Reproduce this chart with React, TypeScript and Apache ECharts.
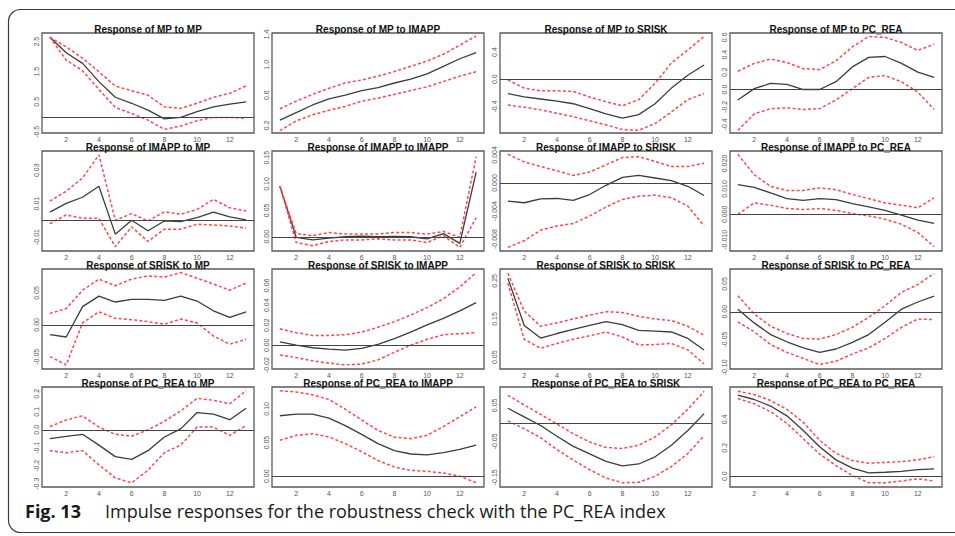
import React, { useEffect, useRef } from "react";
import * as echarts from "echarts";

const horizons = [1, 2, 3, 4, 5, 6, 7, 8, 9, 10, 11, 12, 13];
const xTicks = [2, 4, 6, 8, 10, 12];

const variables = ["MP", "IMAPP", "SRISK", "PC_REA"];

// Row 1: Response of MP
const mean_MP_MP = [2.65, 2.13, 1.78, 1.17, 0.65, 0.45, 0.22, -0.07, -0.02, 0.17, 0.33, 0.42, 0.5];
const upper_MP_MP = [2.65, 2.33, 1.95, 1.5, 1.02, 0.87, 0.72, 0.33, 0.28, 0.45, 0.65, 0.78, 1.03];
const lower_MP_MP = [2.65, 1.89, 1.53, 0.91, 0.31, 0.11, -0.11, -0.42, -0.31, -0.13, -0.02, -0.02, -0.05];

const mean_MP_IMAPP = [0.27, 0.37, 0.47, 0.55, 0.6, 0.66, 0.7, 0.76, 0.81, 0.88, 0.98, 1.08, 1.16];
const upper_MP_IMAPP = [0.42, 0.52, 0.61, 0.69, 0.76, 0.8, 0.85, 0.91, 0.98, 1.05, 1.14, 1.26, 1.38];
const lower_MP_IMAPP = [0.13, 0.26, 0.34, 0.4, 0.45, 0.52, 0.56, 0.61, 0.66, 0.71, 0.78, 0.85, 0.91];

const mean_MP_SRISK = [-0.21, -0.26, -0.29, -0.32, -0.36, -0.43, -0.51, -0.57, -0.52, -0.36, -0.13, 0.06, 0.21];
const upper_MP_SRISK = [-0.01, -0.13, -0.17, -0.17, -0.18, -0.26, -0.33, -0.39, -0.3, -0.06, 0.24, 0.43, 0.63];
const lower_MP_SRISK = [-0.38, -0.41, -0.45, -0.5, -0.55, -0.61, -0.67, -0.74, -0.75, -0.65, -0.48, -0.3, -0.21];

const mean_MP_PC_REA = [-0.12, 0.01, 0.07, 0.06, 0.0, 0.0, 0.09, 0.26, 0.37, 0.38, 0.3, 0.2, 0.14];
const upper_MP_PC_REA = [0.21, 0.3, 0.35, 0.31, 0.24, 0.23, 0.33, 0.49, 0.61, 0.6, 0.54, 0.45, 0.52];
const lower_MP_PC_REA = [-0.47, -0.28, -0.22, -0.21, -0.23, -0.22, -0.12, 0.01, 0.14, 0.16, 0.09, -0.03, -0.23];

// Row 2: Response of IMAPP
const mean_IMAPP_MP = [0.0049, 0.0101, 0.0138, 0.0204, -0.0083, 0.0, -0.0063, -0.0004, -0.0008, 0.0016, 0.0049, 0.002, 0.0002];
const upper_IMAPP_MP = [0.0115, 0.0174, 0.0253, 0.0392, 0.0, 0.004, -0.0004, 0.0051, 0.0036, 0.0065, 0.0125, 0.0075, 0.0055];
const lower_IMAPP_MP = [-0.002, 0.0032, 0.0012, 0.0012, -0.0158, -0.004, -0.0127, -0.0053, -0.0053, -0.0024, -0.0028, -0.0034, -0.0047];

const mean_IMAPP_IMAPP = [0.096, -0.001, -0.006, -0.0025, 0.0, 0.001, 0.0, 0.0006, 0.0, -0.004, 0.006, -0.0125, 0.1225];
const upper_IMAPP_IMAPP = [0.096, 0.006, 0.002, 0.008, 0.005, 0.005, 0.005, 0.008, 0.008, 0.005, 0.01, -0.001, 0.152];
const lower_IMAPP_IMAPP = [0.096, -0.011, -0.017, -0.009, -0.006, -0.006, -0.004, -0.006, -0.006, -0.011, 0.002, -0.02, 0.036];

const mean_IMAPP_SRISK = [-0.00259, -0.00282, -0.00226, -0.00221, -0.00249, -0.00165, -0.00033, 0.0008, 0.00108, 0.00071, 0.00033, -0.00047, -0.00179];
const upper_IMAPP_SRISK = [0.0041, 0.003, 0.00235, 0.00174, 0.00108, 0.00155, 0.00259, 0.00362, 0.00376, 0.00306, 0.00235, 0.00235, 0.00282];
const lower_IMAPP_SRISK = [-0.00918, -0.00824, -0.00673, -0.00612, -0.00579, -0.0047, -0.00344, -0.00235, -0.00188, -0.00174, -0.00212, -0.00329, -0.00612];

const mean_IMAPP_PC_REA = [0.0117, 0.0106, 0.0084, 0.0062, 0.0055, 0.0062, 0.0058, 0.0042, 0.0029, 0.0016, -0.0003, -0.0023, -0.0035];
const upper_IMAPP_PC_REA = [0.0236, 0.0156, 0.011, 0.0094, 0.0094, 0.0104, 0.0097, 0.0078, 0.0062, 0.0045, 0.0036, 0.0026, 0.0065];
const lower_IMAPP_PC_REA = [0.0, 0.0045, 0.0036, 0.0023, 0.0019, 0.0023, 0.0016, 0.0003, -0.0006, -0.0019, -0.0039, -0.0071, -0.0127];

// Row 3: Response of SRISK
const mean_SRISK_MP = [-0.0154, -0.019, 0.0287, 0.0451, 0.0359, 0.04, 0.04, 0.0385, 0.0451, 0.0374, 0.0221, 0.0118, 0.0205];
const upper_SRISK_MP = [0.0179, 0.0256, 0.0544, 0.0718, 0.0615, 0.0718, 0.0769, 0.0749, 0.0821, 0.0733, 0.0641, 0.0544, 0.0656];
const lower_SRISK_MP = [-0.0497, -0.0626, 0.0031, 0.0205, 0.0103, 0.0082, 0.0051, 0.001, 0.0092, 0.0031, -0.0174, -0.0303, -0.0226];

const mean_SRISK_IMAPP = [0.0033, 0.0, -0.0026, -0.0039, -0.0049, -0.0033, 0.0007, 0.0066, 0.0131, 0.0203, 0.0269, 0.0344, 0.0426];
const upper_SRISK_IMAPP = [0.0164, 0.0125, 0.0098, 0.0098, 0.0105, 0.0131, 0.018, 0.0236, 0.0302, 0.0377, 0.0466, 0.0584, 0.0728];
const lower_SRISK_IMAPP = [-0.0098, -0.0125, -0.0157, -0.018, -0.0197, -0.019, -0.0148, -0.0072, 0.0, 0.0059, 0.0105, 0.0115, 0.0125];

const mean_SRISK_SRISK = [0.257, 0.133, 0.1, 0.112, 0.123, 0.133, 0.143, 0.135, 0.12, 0.118, 0.116, 0.099, 0.069];
const upper_SRISK_SRISK = [0.27, 0.171, 0.131, 0.14, 0.15, 0.16, 0.169, 0.167, 0.157, 0.15, 0.146, 0.131, 0.107];
const lower_SRISK_SRISK = [0.244, 0.097, 0.073, 0.086, 0.097, 0.106, 0.116, 0.103, 0.082, 0.083, 0.086, 0.069, 0.032];

const mean_SRISK_PC_REA = [0.0047, -0.02, -0.041, -0.054, -0.065, -0.073, -0.067, -0.055, -0.041, -0.019, 0.0047, 0.0176, 0.028];
const upper_SRISK_PC_REA = [0.029, -0.004, -0.026, -0.039, -0.048, -0.049, -0.041, -0.028, -0.01, 0.011, 0.035, 0.049, 0.069];
const lower_SRISK_PC_REA = [-0.018, -0.036, -0.059, -0.073, -0.084, -0.095, -0.089, -0.076, -0.065, -0.048, -0.028, -0.013, -0.014];

// Row 4: Response of PC_REA
const mean_PC_REA_MP = [-0.049, -0.036, -0.025, -0.085, -0.149, -0.164, -0.116, -0.04, 0.005, 0.096, 0.087, 0.056, 0.12];
const upper_PC_REA_MP = [0.018, 0.055, 0.078, 0.015, -0.025, -0.036, 0.0, 0.047, 0.105, 0.175, 0.164, 0.145, 0.218];
const lower_PC_REA_MP = [-0.116, -0.127, -0.116, -0.195, -0.267, -0.295, -0.225, -0.127, -0.085, 0.015, 0.015, -0.031, 0.024];

const mean_PC_REA_IMAPP = [0.0898, 0.0922, 0.0922, 0.0864, 0.0752, 0.0621, 0.0485, 0.0379, 0.033, 0.0316, 0.035, 0.0398, 0.0461];
const upper_PC_REA_IMAPP = [0.127, 0.125, 0.121, 0.114, 0.0995, 0.0835, 0.068, 0.058, 0.0558, 0.0607, 0.0738, 0.0883, 0.103];
const lower_PC_REA_IMAPP = [0.0534, 0.0607, 0.0631, 0.0583, 0.0485, 0.0364, 0.0233, 0.0136, 0.0087, 0.0073, 0.0049, 0.0, -0.0097];

const mean_PC_REA_SRISK = [0.042, 0.018, -0.006, -0.036, -0.064, -0.085, -0.106, -0.118, -0.113, -0.093, -0.061, -0.02, 0.027];
const upper_PC_REA_SRISK = [0.078, 0.051, 0.025, -0.002, -0.029, -0.052, -0.067, -0.07, -0.061, -0.038, -0.004, 0.039, 0.089];
const lower_PC_REA_SRISK = [0.007, -0.015, -0.04, -0.073, -0.102, -0.129, -0.152, -0.165, -0.164, -0.147, -0.12, -0.084, -0.034];

const mean_PC_REA_PC_REA = [0.57, 0.54, 0.494, 0.425, 0.322, 0.207, 0.115, 0.057, 0.023, 0.028, 0.034, 0.046, 0.051];
const upper_PC_REA_PC_REA = [0.598, 0.575, 0.533, 0.471, 0.379, 0.253, 0.161, 0.11, 0.092, 0.097, 0.103, 0.115, 0.138];
const lower_PC_REA_PC_REA = [0.547, 0.51, 0.455, 0.372, 0.264, 0.156, 0.074, 0.005, -0.046, -0.046, -0.034, -0.018, -0.034];

// Y-axis tick labels per panel (row-major)
const yTickLabels = [
  [-0.5, 0.5, 1.5, 2.5],
  [0.2, 0.6, 1.0, 1.4],
  [-0.8, -0.4, 0.0, 0.4],
  [-0.4, -0.2, 0.0, 0.2, 0.4, 0.6],
  [-0.01, 0.01, 0.03],
  [0.0, 0.05, 0.1, 0.15],
  [-0.008, -0.004, 0.0, 0.004],
  [-0.01, 0.0, 0.01, 0.02],
  [-0.05, 0.0, 0.05],
  [-0.02, 0.0, 0.02, 0.04, 0.06],
  [0.05, 0.15, 0.25],
  [-0.1, -0.05, 0.0, 0.05],
  [-0.3, -0.2, -0.1, 0.0, 0.1, 0.2],
  [0.0, 0.05, 0.1],
  [-0.15, -0.05, 0.05],
  [0.0, 0.2, 0.4],
];
const yTickDecimals = [1, 1, 1, 1, 2, 2, 3, 3, 2, 2, 2, 2, 1, 2, 2, 1];

// Axis extents (value range of each plot box)
const yRanges: [number, number][] = [
  [-0.54, 2.79], [0.1, 1.42], [-0.79, 0.68], [-0.5, 0.65],
  [-0.0184, 0.0415], [-0.027, 0.1625], [-0.0097, 0.00456], [-0.0144, 0.0249],
  [-0.0692, 0.0877], [-0.0239, 0.0764], [0.019, 0.281], [-0.103, 0.077],
  [-0.318, 0.238], [-0.016, 0.1325], [-0.177, 0.101], [-0.076, 0.628],
];
const xRange: [number, number] = [0.52, 13.48];

const panelData = [
  [mean_MP_MP, upper_MP_MP, lower_MP_MP],
  [mean_MP_IMAPP, upper_MP_IMAPP, lower_MP_IMAPP],
  [mean_MP_SRISK, upper_MP_SRISK, lower_MP_SRISK],
  [mean_MP_PC_REA, upper_MP_PC_REA, lower_MP_PC_REA],
  [mean_IMAPP_MP, upper_IMAPP_MP, lower_IMAPP_MP],
  [mean_IMAPP_IMAPP, upper_IMAPP_IMAPP, lower_IMAPP_IMAPP],
  [mean_IMAPP_SRISK, upper_IMAPP_SRISK, lower_IMAPP_SRISK],
  [mean_IMAPP_PC_REA, upper_IMAPP_PC_REA, lower_IMAPP_PC_REA],
  [mean_SRISK_MP, upper_SRISK_MP, lower_SRISK_MP],
  [mean_SRISK_IMAPP, upper_SRISK_IMAPP, lower_SRISK_IMAPP],
  [mean_SRISK_SRISK, upper_SRISK_SRISK, lower_SRISK_SRISK],
  [mean_SRISK_PC_REA, upper_SRISK_PC_REA, lower_SRISK_PC_REA],
  [mean_PC_REA_MP, upper_PC_REA_MP, lower_PC_REA_MP],
  [mean_PC_REA_IMAPP, upper_PC_REA_IMAPP, lower_PC_REA_IMAPP],
  [mean_PC_REA_SRISK, upper_PC_REA_SRISK, lower_PC_REA_SRISK],
  [mean_PC_REA_PC_REA, upper_PC_REA_PC_REA, lower_PC_REA_PC_REA],
];

const COL_LEFT = [42, 272, 500, 730];
const ROW_TOP = [33, 151, 269, 387];
const PANEL_W = 212;
const PANEL_H = 100;

function buildOption() {
  const grids: any[] = [];
  const xAxes: any[] = [];
  const yAxes: any[] = [];
  const series: any[] = [];
  const graphics: any[] = [];

  graphics.push({
    type: "rect",
    shape: { x: 8.5, y: 9.5, width: 1000, height: 523, r: 12 },
    style: { fill: "none", stroke: "#3a3a3a", lineWidth: 1.2 },
    silent: true,
    z: 0,
  });

  for (let i = 0; i < 16; i++) {
    const r = Math.floor(i / 4);
    const c = i % 4;
    const left = COL_LEFT[c];
    const top = ROW_TOP[r];
    grids.push({
      left,
      top,
      width: PANEL_W,
      height: PANEL_H,
      show: true,
      borderColor: "#5a5a5a",
      borderWidth: 1.3,
      backgroundColor: "transparent",
    });
    xAxes.push({
      type: "value",
      gridIndex: i,
      min: xRange[0],
      max: xRange[1],
      axisLine: { show: false },
      axisTick: { show: false, customValues: xTicks },
      splitLine: { show: false },
      axisLabel: {
        customValues: xTicks,
        fontSize: 7,
        color: "#555",
        margin: 3,
        fontFamily: "Liberation Sans, Arial, sans-serif",
      },
    });
    const dec = yTickDecimals[i];
    yAxes.push({
      type: "value",
      gridIndex: i,
      min: yRanges[i][0],
      max: yRanges[i][1],
      axisLine: { show: false },
      axisTick: { show: false, customValues: yTickLabels[i] },
      splitLine: { show: false },
      axisLabel: {
        customValues: yTickLabels[i],
        rotate: 90,
        fontSize: 7,
        color: "#555",
        margin: 2,
        fontFamily: "Liberation Sans, Arial, sans-serif",
        formatter: (v: number) => v.toFixed(dec),
      },
    });
    const [mean, upper, lower] = panelData[i];
    const toPts = (arr: number[]) => arr.map((v, k) => [horizons[k], v]);
    const hasZero = yRanges[i][0] < 0 && yRanges[i][1] > 0;
    series.push({
      type: "line",
      xAxisIndex: i,
      yAxisIndex: i,
      data: toPts(mean),
      showSymbol: false,
      symbol: "none",
      lineStyle: { color: "#3c3c3c", width: 1.3 },
      z: 3,
      markLine: hasZero
        ? {
            silent: true,
            symbol: ["none", "none"],
            label: { show: false },
            lineStyle: { color: "#444", width: 1, type: "solid" },
            data: [{ yAxis: 0 }],
          }
        : undefined,
    });
    [upper, lower].forEach((band) => {
      series.push({
        type: "line",
        xAxisIndex: i,
        yAxisIndex: i,
        data: toPts(band),
        showSymbol: false,
        symbol: "none",
        lineStyle: { color: "#ff4747", width: 1.5, type: [3, 2.2] },
        z: 4,
      });
    });

    const respVar = variables[r];
    const impVar = variables[c];
    graphics.push({
      type: "text",
      x: left + PANEL_W / 2,
      y: top - 4,
      silent: true,
      z: 10,
      style: {
        text: `Response of ${respVar} to ${impVar}`,
        textAlign: "center",
        textVerticalAlign: "middle",
        fontFamily: "Liberation Sans, Arial, sans-serif",
        fontWeight: "bold",
        fontSize: 10,
        fill: "#111",
      },
    });
  }

  graphics.push({
    type: "text",
    x: 25,
    y: 511,
    silent: true,
    style: {
      text: "Fig. 13",
      textAlign: "left",
      textVerticalAlign: "middle",
      fontFamily: "Open Sans, sans-serif",
      fontWeight: "bold",
      fontSize: 18,
      fill: "#1a1a1a",
    },
  });
  graphics.push({
    type: "text",
    x: 105,
    y: 511,
    silent: true,
    style: {
      text: "Impulse responses for the robustness check with the PC_REA index",
      textAlign: "left",
      textVerticalAlign: "middle",
      fontFamily: "Open Sans, sans-serif",
      fontWeight: "normal",
      fontSize: 18,
      fill: "#1a1a1a",
    },
  });

  return {
    animation: false,
    backgroundColor: "#ffffff",
    grid: grids,
    xAxis: xAxes,
    yAxis: yAxes,
    series,
    graphic: graphics,
  };
}

export default function App() {
  const ref = useRef<HTMLDivElement>(null);
  useEffect(() => {
    if (!ref.current) return;
    const chart = echarts.init(ref.current, null, { renderer: "svg" });
    chart.setOption(buildOption() as any);
    return () => chart.dispose();
  }, []);
  return (
    <div
      ref={ref}
      style={{ position: "fixed", left: 0, top: 0, width: 955, height: 536, background: "#fff" }}
    />
  );
}
